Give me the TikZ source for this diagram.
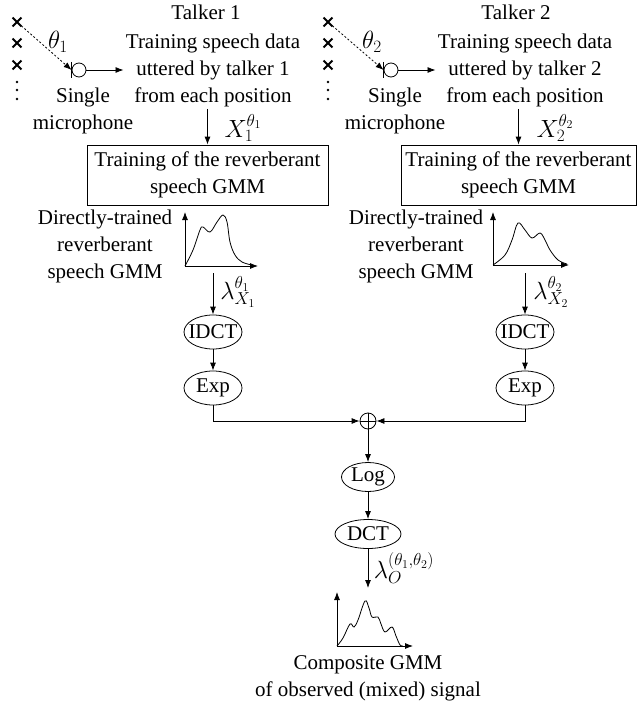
\documentclass[tikz,border=0pt]{standalone}
\usepackage{fontspec}
\setmainfont{Liberation Serif}
\usetikzlibrary{shapes.geometric}
\usetikzlibrary{shapes.misc}
\usetikzlibrary{arrows.meta}

\begin{document}
\begin{tikzpicture}[
    x=1pt, y=-1pt,
    font=\fontsize{21}{27}\selectfont,
    line width=0.8pt,
    >={Latex[length=8pt,width=6pt]},
    blk/.style={
        rectangle,
        draw,
        minimum width={241pt},
        minimum height={60pt},
        align=center,
        inner sep=2pt
    },
    op/.style={
        ellipse,
        draw,
        inner xsep=-4pt,
        inner ysep=0pt,
        minimum height={34pt}
    },
    txt/.style={align=center, inner sep=2pt},
    lab/.style={font=\fontsize{24}{28}\selectfont, inner sep=0pt},
    spot/.style={cross out, draw, minimum size=7pt, inner sep=0pt, line width=1.8pt},
    mic/.style={circle, draw, minimum size=14pt, inner sep=0pt},
    sum/.style={circle, draw, minimum size=16pt, inner sep=0pt}
]
\useasboundingbox (0,0) rectangle (637,706);

% talker 1
\node (talk1) at (206,12) {Talker 1};
\node [spot] (p11) at (17,22) {};
\node [spot] (p12) at (17,43) {};
\node [spot] (p13) at (17,65) {};
\foreach \y in {82,90,99} \fill (17,\y) circle (1.4pt);
\node [mic] (mic1) at (79,70) {};
\draw (mic1.west) ++(0,-8) -- ++(0,16);
\draw[->,dash pattern=on 2pt off 2pt] (p11) -- (mic1.west);
\node [lab] (th1) at (58,42) {$\theta_1$};
\node [txt] (data1) at (213,70) {Training speech data\\uttered by talker 1\\from each position};
\node [txt] (single1) at (83,111) {Single\\microphone};
\node [blk] (box1) at (207.5,175) {Training of the reverberant\\speech GMM};
\node [lab] (x1lab) at (243,128) {$X_1^{\theta_1}$};

\draw[->] (mic1.east) -- (data1.west);
\draw[->] (data1.south -| box1.north) -- (box1.north);

\node [txt] (dir1) at (105,246) {Directly-trained\\reverberant\\speech GMM};
\draw[->] (185,266) -- (185,212);
\draw[->] (185,266) -- (258,266);
\draw plot[smooth, tension=0.6] coordinates {(185,266) (193,250) (200,230) (203,227) (210,232) (217,222) (223,215) (227,222) (230,242) (235,255) (242,262) (252,265)};
\coordinate (g1) at (213,273);

\node [op, minimum width={57pt}] (idct1) at (213,332) {IDCT};
\node [op, minimum width={58pt}] (exp1) at (213,388) {Exp};
\node [lab] (lam1) at (238,292) {$\lambda_{X_1}^{\theta_1}$};

\draw[->] (g1) -- (idct1.north);
\draw[->] (idct1) -- (exp1);

% talker 2
\node (talk2) at (516,12) {Talker 2};
\node [spot] (p21) at (328,22) {};
\node [spot] (p22) at (328,43) {};
\node [spot] (p23) at (328,65) {};
\foreach \y in {82,90,99} \fill (328,\y) circle (1.4pt);
\node [mic] (mic2) at (391,70) {};
\draw (mic2.west) ++(0,-8) -- ++(0,16);
\draw[->,dash pattern=on 2pt off 2pt] (p21) -- (mic2.west);
\node [lab] (th2) at (372,42) {$\theta_2$};
\node [txt] (data2) at (525,70) {Training speech data\\uttered by talker 2\\from each position};
\node [txt] (single2) at (395,111) {Single\\microphone};
\node [blk, minimum width={235pt}] (box2) at (518.5,175) {Training of the reverberant\\speech GMM};
\node [lab] (x2lab) at (555,128) {$X_2^{\theta_2}$};

\draw[->] (mic2.east) -- (data2.west);
\draw[->] (data2.south -| box2.north) -- (box2.north);

\node [txt] (dir2) at (416,246) {Directly-trained\\reverberant\\speech GMM};
\draw[->] (493,265) -- (493,212);
\draw[->] (493,265) -- (569,265);
\draw plot[smooth, tension=0.6] coordinates {(493,265) (505,255) (512,240) (518,223) (525,230) (532,238) (540,233) (545,240) (550,250) (558,260) (567,264)};
\coordinate (g2) at (525,273);

\node [op, minimum width={57pt}] (idct2) at (525,332) {IDCT};
\node [op, minimum width={58pt}] (exp2) at (525,388) {Exp};
\node [lab] (lam2) at (551,292) {$\lambda_{X_2}^{\theta_2}$};

\draw[->] (g2) -- (idct2.north);
\draw[->] (idct2) -- (exp2);

% mixing
\node [sum] (plus) at (368,421) {};
\draw (plus.north) -- (plus.south) (plus.west) -- (plus.east);
\draw[->] (exp1.south) |- (plus.west);
\draw[->] (exp2.south) |- (plus.east);

\node [op, minimum width={53pt}, minimum height={29pt}] (log) at (368,477) {Log};
\node [op, minimum width={66pt}, minimum height={29pt}] (dct) at (368,534) {DCT};
\coordinate (g3) at (368,588);
\node [lab] (lam3) at (404,568) {$\lambda_{O}^{(\theta_1,\theta_2)}$};

\draw[->] (plus) -- (log);
\draw[->] (log) -- (dct);
\draw[->] (dct) -- (g3);

\draw[->] (337,646) -- (337,592);
\draw[->] (337,646) -- (413,646);
\draw plot[smooth, tension=0.6] coordinates {(337,646) (343,638) (350,624) (354,627) (358,620) (365,601) (369,608) (372,617) (378,617) (381,624) (385,632) (392,627) (396,636) (400,645) (403,646)};
\node [txt] (comp) at (368,678) {Composite GMM\\of observed (mixed) signal};
\end{tikzpicture}
\end{document}
